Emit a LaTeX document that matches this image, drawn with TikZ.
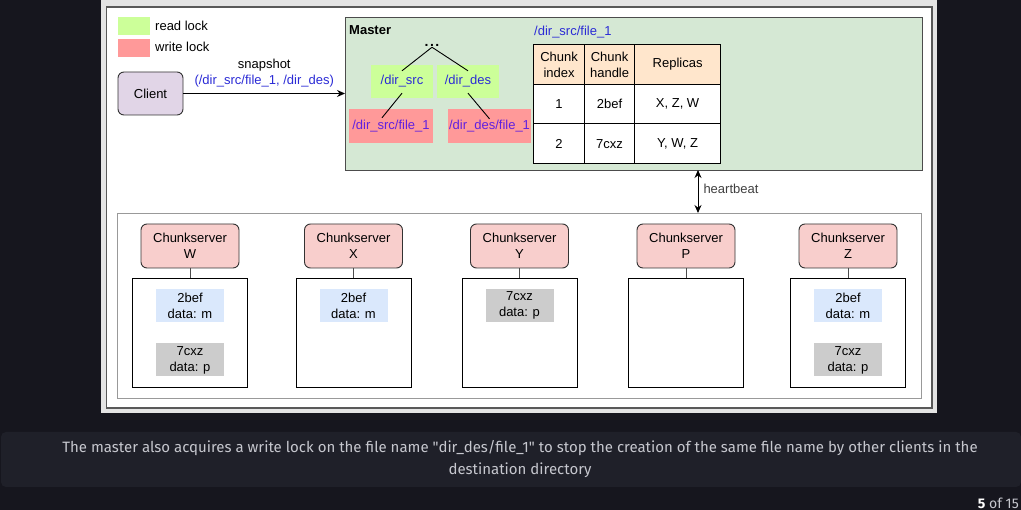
\documentclass[tikz,border=0pt]{standalone}
\usepackage{fontspec}
\setmainfont{Liberation Sans}
\newfontfamily\capfont{Fira Sans}
\usetikzlibrary{arrows.meta,calc}
\definecolor{pagebg}{HTML}{16161E}
\definecolor{capbg}{HTML}{1F2029}
\definecolor{captext}{HTML}{C6C7CE}
\definecolor{panelrim}{HTML}{E4E4E4}
\definecolor{readfill}{HTML}{CCFF99}
\definecolor{writefill}{HTML}{FF9999}
\definecolor{clientfill}{HTML}{E1D5E7}
\definecolor{masterfill}{HTML}{D5E8D4}
\definecolor{serverfill}{HTML}{F8CECC}
\definecolor{headfill}{HTML}{FFE6CC}
\definecolor{bluechunk}{HTML}{DAE8FC}
\definecolor{graychunk}{HTML}{CCCCCC}
\definecolor{dirblue}{HTML}{2B2BD6}
\definecolor{filepurple}{HTML}{6020E0}
\tikzset{
  lbl/.style={font=\fontsize{13}{16}\selectfont, align=center, inner sep=0pt},
  readbox/.style={lbl, fill=readfill},
  writebox/.style={lbl, fill=writefill},
  clientbox/.style={lbl, draw=black!80, fill=clientfill, rounded corners=6pt, line width=0.9pt},
  serverbox/.style={lbl, draw=black!80, fill=serverfill, rounded corners=6pt, line width=0.9pt, minimum width=98, minimum height=44},
  storebox/.style={draw=black, fill=white, line width=0.9pt, minimum width=115, minimum height=109, inner sep=0pt},
  chunkbox/.style={lbl, minimum width=68, minimum height=33},
  cell/.style={lbl, draw=black, line width=1.2pt, anchor=north west},
  arr/.style={line width=1pt, -{Stealth[length=8pt,width=7pt]}},
}
\begin{document}
\begin{tikzpicture}[x=1pt,y=-1pt]
\fill[pagebg] (0,0) rectangle (1021,510);
\fill[panelrim] (101,0) rectangle (937,413);
\draw[black!65, line width=1.2pt, fill=white] (106.5,7) rectangle (932,408);
\node[readbox, minimum width=32, minimum height=18] (readkey) at (134,26) {};
\node[lbl, anchor=west] (readtxt) at (155,26) {read lock};
\node[writebox, minimum width=32, minimum height=18] (writekey) at (134,48) {};
\node[lbl, anchor=west] (writetxt) at (155,47) {write lock};
\node[clientbox, minimum width=65, minimum height=43] (client) at (150.5,93.5) {Client};
\node[draw=black!70, fill=masterfill, line width=1.2pt, minimum width=577, minimum height=153, inner sep=0pt, anchor=north west] (master) at (345,17) {};
\draw[arr] (client.east) -- (client.east -| master.west) node[lbl, pos=0.5, above=6pt] (snap) {snapshot\\\textcolor{dirblue}{(/dir\_src/file\_1, /dir\_des)}};
\node[lbl, anchor=west, font=\fontsize{13}{16}\selectfont\bfseries] (mastertxt) at (349,30) {Master};
\node[lbl, font=\fontsize{14}{16}\selectfont\bfseries] (dots) at (432,45) {.\hspace{1.5pt}.\hspace{1.5pt}.};
\node[readbox, minimum width=62, minimum height=33, text=dirblue] (dsrc) at (402,81.5) {/dir\_src};
\node[readbox, minimum width=62, minimum height=33, text=dirblue] (ddes) at (468,81.5) {/dir\_des};
\node[writebox, minimum width=84, minimum height=34, text=filepurple] (fsrc) at (391,126) {/dir\_src/file\_1};
\node[writebox, minimum width=83, minimum height=34, text=filepurple] (fdes) at (489.5,126) {/dir\_des/file\_1};
\draw[line width=0.9pt] ([yshift=-1pt]dots.south) -- ([yshift=-6pt]dsrc.north);
\draw[line width=0.9pt] ([yshift=-1pt]dots.south) -- ([yshift=-6pt]ddes.north);
\draw[line width=0.9pt] ([yshift=5pt]dsrc.south) -- ([xshift=-9pt,yshift=-9pt]fsrc.north);
\draw[line width=0.9pt] ([yshift=5pt]ddes.south) -- ([yshift=-10pt]fdes.north);
\node[lbl, anchor=west, text=dirblue] (tabtitle) at (534,32) {/dir\_src/file\_1};
\node[cell, fill=headfill, minimum width=51, minimum height=40] (h1) at (533,44) {Chunk\\index};
\node[cell, fill=headfill, minimum width=50, minimum height=40] (h2) at (584,44) {Chunk\\handle};
\node[cell, fill=headfill, minimum width=86, minimum height=40] (h3) at (634,44) {Replicas};
\node[cell, fill=white, minimum width=51, minimum height=39] (a1) at (533,84) {1};
\node[cell, fill=white, minimum width=50, minimum height=39] (a2) at (584,84) {2bef};
\node[cell, fill=white, minimum width=86, minimum height=39] (a3) at (634,84) {X, Z, W};
\node[cell, fill=white, minimum width=51, minimum height=40] (b1) at (533,123) {2};
\node[cell, fill=white, minimum width=50, minimum height=40] (b2) at (584,123) {7cxz};
\node[cell, fill=white, minimum width=86, minimum height=40] (b3) at (634,123) {Y, W, Z};
\node[draw=black!40, line width=1.2pt, minimum width=804, minimum height=185, inner sep=0pt, anchor=north west] (pool) at (117,213) {};
\coordinate (hbtop) at (698,170);
\draw[line width=1pt, {Stealth[length=8pt,width=7pt]}-{Stealth[length=8pt,width=7pt]}] (hbtop) -- (hbtop |- pool.north) node[lbl, pos=0.45, right=5pt, text=black!75] (hbtxt) {heartbeat};
\foreach \cx/\nm in {190/W, 353.5/X, 519.5/Y, 686/P, 848/Z}{
  \node[serverbox] (srv\nm) at (\cx,246) {Chunkserver\\\nm};
  \node[storebox] (st\nm) at (\cx,332.5) {};
  \draw[black!70, line width=0.9pt] (srv\nm.south) -- (st\nm.north);
}
\node[chunkbox, fill=bluechunk] (cW1) at (190,305.5) {2bef\\data: m};
\node[chunkbox, fill=graychunk] (cW2) at (190,360) {7cxz\\data: p};
\node[chunkbox, fill=bluechunk] (cX1) at (353.5,305.5) {2bef\\data: m};
\node[chunkbox, fill=graychunk] (cY1) at (519.5,305.5) {7cxz\\data: p};
\node[chunkbox, fill=bluechunk] (cZ1) at (848,305.5) {2bef\\data: m};
\node[chunkbox, fill=graychunk] (cZ2) at (848,360) {7cxz\\data: p};
\fill[capbg, rounded corners=5pt] (1,432) rectangle (1021,487);
\node[align=center, inner sep=0pt, text=captext, font=\capfont\fontsize{15}{22}\selectfont] (caption) at (520,459) {The master also acquires a write lock on the file name "dir\_des/file\_1" to stop the creation of the same file name by other clients in the\\destination directory};
\node[anchor=east, inner sep=0pt, text=captext, font=\capfont\fontsize{14}{16}\selectfont] (pager) at (1019,503) {\textcolor{white}{\textbf{5}} of 15};
\end{tikzpicture}
\end{document}
